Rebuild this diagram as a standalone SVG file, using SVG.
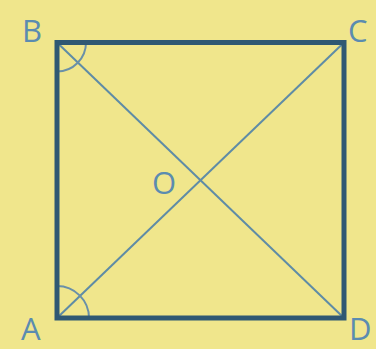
<svg xmlns="http://www.w3.org/2000/svg" width="376" height="349" viewBox="0 0 376 349">
<style>
.lbl{font-family:"Open Sans","Liberation Sans",sans-serif;font-size:31px;fill:#5b8cb0}
.edge{fill:none;stroke:#2f5873;stroke-width:5;stroke-linejoin:miter}
.diag{stroke:#5f8ca6;stroke-width:2;fill:none}
.arc{stroke:#6a90a8;stroke-width:2;fill:none}
</style>
<rect width="376" height="349" fill="#f0e68c"/>
<g id="connectors">
<line class="diag" x1="57" y1="42.5" x2="344" y2="318"/>
<line class="diag" x1="57" y1="318" x2="344" y2="42.5"/>
<path class="arc" d="M86 42.5 A29 29 0 0 1 57 71.5"/>
<path class="arc" d="M57 286 A32 32 0 0 1 89 318"/>
</g>
<g id="square"><rect class="edge" x="57" y="42.5" width="287" height="275.5"/></g>
<g id="B"><text class="lbl" x="22" y="42">B</text></g>
<g id="C"><text class="lbl" x="348" y="42">C</text></g>
<g id="A"><text class="lbl" x="21" y="340">A</text></g>
<g id="D"><text class="lbl" x="349" y="340">D</text></g>
<g id="O"><text class="lbl" x="152" y="194">O</text></g>
</svg>
